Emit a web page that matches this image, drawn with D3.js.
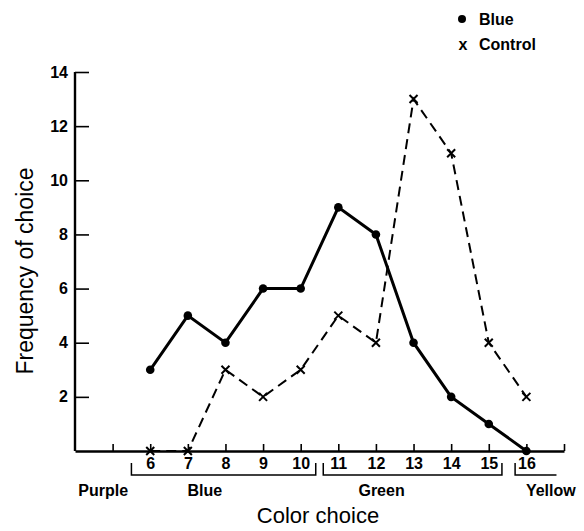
<!DOCTYPE html>
<html>
<head>
<meta charset="utf-8">
<script src="https://cdn.jsdelivr.net/npm/d3@7"></script>
<style>
  body { margin: 0; background: #fff; }
  svg { font-family: "Liberation Sans", Arial, sans-serif; }
</style>
</head>
<body>
<svg></svg>
<script>
var colorChoice = [6, 7, 8, 9, 10, 11, 12, 13, 14, 15, 16];
var blueFreq    = [3, 5, 4, 6, 6, 9, 8, 4, 2, 1, 0];
var controlFreq = [0, 0, 3, 2, 3, 5, 4, 13, 11, 4, 2];
var yTicks = [2, 4, 6, 8, 10, 12, 14];
var xTicks = [5, 6, 7, 8, 9, 10, 11, 12, 13, 14, 15, 16, 17];
var groupNames  = ["Purple", "Blue", "Green", "Yellow"];
var groupFrom   = [null, 5.5, 10.6, 15.7];
var groupTo     = [null, 10.4, 15.35, 16.8];
var groupLabelX = [4.75, 7.45, 12.15, 16.65];

var W = 584, H = 531;
var svg = d3.select("svg").attr("width", W).attr("height", H);

var x = d3.scaleLinear().domain([4, 17]).range([75, 564]);
var y = d3.scaleLinear().domain([0, 14]).range([451, 72]);

var blue = colorChoice.map((c, i) => ({c: c, v: blueFreq[i]}));
var ctrl = colorChoice.map((c, i) => ({c: c, v: controlFreq[i]}));

// y axis, ticks point inward
var gy = svg.append("g").attr("transform", "translate(75,0)")
  .call(d3.axisLeft(y).tickValues(yTicks).tickSize(-14).tickSizeOuter(0).tickPadding(7));
gy.select(".domain").attr("d", "M0," + y(14) + "V" + y(0)).attr("stroke-width", 2.4);
gy.selectAll(".tick line").attr("stroke-width", 1.6);
gy.selectAll(".tick text").attr("font-size", 16).attr("font-weight", "bold").attr("fill", "#000");

// x axis
var gx = svg.append("g").attr("transform", "translate(0," + y(0) + ")")
  .call(d3.axisBottom(x).tickValues(xTicks).tickSize(-7).tickSizeOuter(0).tickPadding(7)
    .tickFormat(d => (d >= 6 && d <= 16) ? d : ""));
gx.select(".domain").attr("stroke-width", 2.4);
gx.selectAll(".tick line").attr("stroke-width", 1.6);
gx.selectAll(".tick text").attr("font-size", 16).attr("font-weight", "bold").attr("fill", "#000");

// bracket groups under the numbers
var bTop = 463, bBot = 475;
groupNames.forEach((name, i) => {
  if (groupFrom[i] !== null) {
    var x0 = x(groupFrom[i]), x1 = x(groupTo[i]);
    var d = "M" + x0 + "," + bTop + "V" + bBot + "H" + x1;
    if (name !== "Yellow") d += "V" + bTop;
    svg.append("path").attr("d", d).attr("fill", "none")
      .attr("stroke", "#000").attr("stroke-width", 1.5);
  }
  svg.append("text")
    .attr("x", x(groupLabelX[i]))
    .attr("y", 496)
    .attr("text-anchor", "middle")
    .attr("font-size", 16)
    .attr("font-weight", "bold")
    .text(name);
});

// lines
var line = d3.line().x(d => x(d.c)).y(d => y(d.v));

svg.append("path").datum(ctrl).attr("d", line)
  .attr("fill", "none").attr("stroke", "#000")
  .attr("stroke-width", 2).attr("stroke-dasharray", "10,6");

svg.append("path").datum(blue).attr("d", line)
  .attr("fill", "none").attr("stroke", "#000").attr("stroke-width", 3);

svg.selectAll(".dot").data(blue).enter().append("circle")
  .attr("cx", d => x(d.c)).attr("cy", d => y(d.v)).attr("r", 4.3).attr("fill", "#000");

var s = 4;
svg.selectAll(".cross").data(ctrl).enter().append("path")
  .attr("d", d => {
    var cx = x(d.c), cy = y(d.v);
    return "M" + (cx - s) + "," + (cy - s) + "L" + (cx + s) + "," + (cy + s) +
           "M" + (cx + s) + "," + (cy - s) + "L" + (cx - s) + "," + (cy + s);
  })
  .attr("stroke", "#000").attr("stroke-width", 2);

// legend
svg.append("circle").attr("cx", 462).attr("cy", 19).attr("r", 4).attr("fill", "#000");
svg.append("text").attr("x", 479).attr("y", 25).attr("font-size", 16)
  .attr("font-weight", "bold").text("Blue");
svg.append("text").attr("x", 463).attr("y", 50).attr("font-size", 16)
  .attr("font-weight", "bold").attr("text-anchor", "middle").text("x");
svg.append("text").attr("x", 479).attr("y", 50).attr("font-size", 16)
  .attr("font-weight", "bold").text("Control");

// axis titles
svg.append("text")
  .attr("transform", "translate(33,271) rotate(-90)")
  .attr("text-anchor", "middle")
  .attr("font-size", 23)
  .text("Frequency of choice");

svg.append("text")
  .attr("x", 318).attr("y", 523)
  .attr("text-anchor", "middle")
  .attr("font-size", 22)
  .text("Color choice");
</script>
</body>
</html>
